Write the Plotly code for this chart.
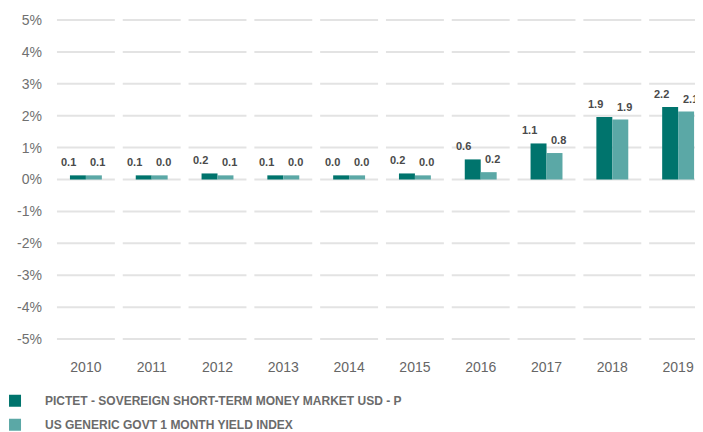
import plotly.graph_objects as go

years = ["2010", "2011", "2012", "2013", "2014", "2015", "2016", "2017", "2018", "2019"]
fund_name = "PICTET - SOVEREIGN SHORT-TERM MONEY MARKET USD - P"
index_name = "US GENERIC GOVT 1 MONTH YIELD INDEX"
fund_values = [0.13, 0.13, 0.19, 0.13, 0.13, 0.19, 0.63, 1.13, 1.96, 2.27]
index_values = [0.13, 0.13, 0.13, 0.13, 0.13, 0.13, 0.23, 0.83, 1.88, 2.13]
fund_labels = ["0.1", "0.1", "0.2", "0.1", "0.0", "0.2", "0.6", "1.1", "1.9", "2.2"]
index_labels = ["0.1", "0.0", "0.1", "0.0", "0.0", "0.0", "0.2", "0.8", "1.9", "2.1"]
y_ticks = [-5, -4, -3, -2, -1, 0, 1, 2, 3, 4, 5]

DARK = "#00746D"
LIGHT = "#5BA8A6"
BARGAP = 0.515
FONT = "Liberation Sans, Arial, sans-serif"

fig = go.Figure()
fig.add_trace(go.Bar(x=years, y=fund_values, name="   " + fund_name, marker_color=DARK,
                     marker_line_width=0, legendgroup="a"))
fig.add_trace(go.Bar(x=years, y=index_values, name="   " + index_name, marker_color=LIGHT,
                     marker_line_width=0, legendgroup="b"))

# segmented gridlines per category
shapes = []
for i in range(len(years)):
    for t in y_ticks:
        shapes.append(dict(type="line", xref="x", yref="y", x0=i - 0.44, x1=i + 0.44,
                           y0=t, y1=t, line=dict(color="#e3e3e3", width=2), layer="below"))

bar_w = (1 - BARGAP) / 2
annotations = []
for i in range(len(years)):
    annotations.append(dict(x=i - bar_w / 2, y=fund_values[i], xref="x", yref="y",
                            text=fund_labels[i], showarrow=False, yanchor="middle",
                            yshift=13, xshift=-9,
                            font=dict(family=FONT, size=11, color="#4a4a4a", weight="bold")))
    annotations.append(dict(x=i + bar_w / 2, y=index_values[i], xref="x", yref="y",
                            text=index_labels[i], showarrow=False, yanchor="middle",
                            yshift=13, xshift=4,
                            font=dict(family=FONT, size=11, color="#4a4a4a", weight="bold")))

fig.update_layout(
    width=695, height=424,
    margin=dict(l=45, r=0, t=2, b=76.5, autoexpand=False),
    paper_bgcolor="white", plot_bgcolor="white",
    barmode="group", bargap=BARGAP, bargroupgap=0,
    shapes=shapes, annotations=annotations,
    showlegend=True,
    legend=dict(orientation="v", x=-0.0892, xanchor="left", y=-0.0905, yanchor="top",
                font=dict(family=FONT, size=12, color="#6b6b6b", weight="bold"),
                tracegroupgap=5, traceorder="grouped", bgcolor="rgba(0,0,0,0)"),
    font=dict(family=FONT),
)
fig.update_xaxes(type="category", range=[-0.5, 9.378], showgrid=False, zeroline=False,
                 showline=False, ticks="", tickfont=dict(family=FONT, size=14, color="#666666"),
                 ticklabelstandoff=2)
fig.update_yaxes(range=[-5.5, 5.3125], tickvals=y_ticks, ticktext=[f"{t}%" for t in y_ticks],
                 showgrid=False, zeroline=False, showline=False, ticks="",
                 tickfont=dict(family=FONT, size=14, color="#707070"), ticklabelstandoff=10)

fig.write_html("out.html")
